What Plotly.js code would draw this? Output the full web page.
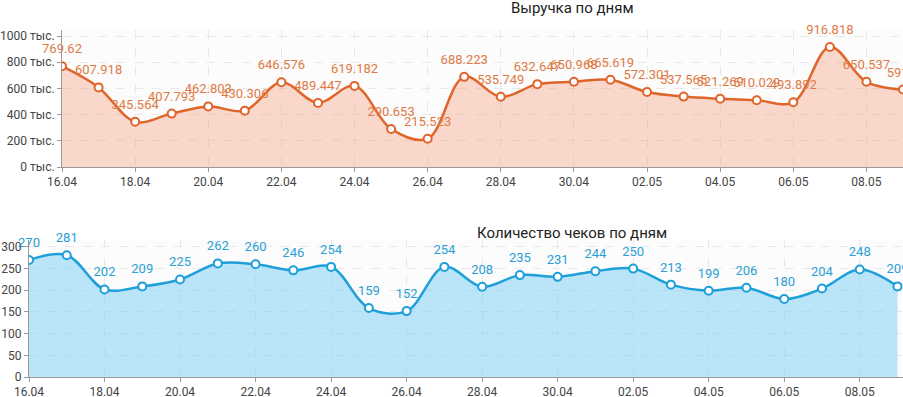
<!DOCTYPE html>
<html>
<head>
<meta charset="utf-8">
<script src="https://cdn.plot.ly/plotly-3.0.1.min.js"></script>
<style>
html,body{margin:0;padding:0;background:#fff;}
#chart{width:903px;height:397px;}
</style>
</head>
<body>
<div id="chart"></div>
<script>
// Dates (day.month), year assumed
var dates = ['2024-04-16','2024-04-17','2024-04-18','2024-04-19','2024-04-20','2024-04-21','2024-04-22','2024-04-23','2024-04-24','2024-04-25','2024-04-26','2024-04-27','2024-04-28','2024-04-29','2024-04-30','2024-05-01','2024-05-02','2024-05-03','2024-05-04','2024-05-05','2024-05-06','2024-05-07','2024-05-08','2024-05-09'];
// Revenue, thousands
var revenue = [769.62, 607.918, 345.564, 407.793, 462.803, 430.306, 646.576, 489.447, 619.182, 290.653, 215.523, 688.223, 535.749, 632.647, 650.968, 665.619, 572.301, 537.565, 521.269, 510.029, 493.892, 916.818, 650.537, 591.4];
// Number of receipts
var checks = [270, 281, 202, 209, 225, 262, 260, 246, 254, 159, 152, 254, 208, 235, 231, 244, 250, 213, 199, 206, 180, 204, 248, 209];

var titleTop = 'Выручка по дням';
var titleBottom = 'Количество чеков по дням';
var ySuffix = ' тыс.';

var W = 903, H = 397;
var FONT = 'Roboto, "Noto Sans", sans-serif';

var orange = '#e0652a', orangeFill = 'rgba(244,150,115,0.36)', orangeText = '#e07a45';
var blue = '#1e9fd9', blueFill = 'rgba(120,205,245,0.5)', blueText = '#2aa0d6';

function series(y, xa, ya, col, fillc, txtc) {
  return [
    {
      x: dates, y: y, type: 'scatter', mode: 'lines+markers',
      xaxis: xa, yaxis: ya,
      line: {shape: 'spline', smoothing: 1, color: col, width: 2.5},
      marker: {size: 8, color: '#fff', line: {color: col, width: 2}},
      fill: 'tozeroy', fillcolor: fillc, hoverinfo: 'x+y'
    },
    {
      x: dates, y: y, type: 'scatter', mode: 'markers+text',
      xaxis: xa, yaxis: ya,
      marker: {size: 14, color: 'rgba(0,0,0,0)', line: {width: 0}},
      text: y.map(function(v){ return String(v); }),
      textposition: 'top center',
      textfont: {family: FONT, size: 13, color: txtc},
      cliponaxis: false, hoverinfo: 'skip'
    }
  ];
}

var traces = series(revenue, 'x', 'y', orange, orangeFill, orangeText)
  .concat(series(checks, 'x2', 'y2', blue, blueFill, blueText));

function py(px){ return 1 - px / H; }

var xCommon = {
  type: 'date', tickformat: '%d.%m', dtick: 2*86400000, tick0: '2024-04-16',
  showgrid: true, gridcolor: '#e8e8e8', griddash: 'dash', gridwidth: 1,
  showline: true, linecolor: '#999', linewidth: 1,
  ticks: 'outside', ticklen: 4, tickcolor: '#999',
  tickfont: {family: FONT, size: 12, color: '#444'},
  zeroline: false, fixedrange: true
};
var yCommon = {
  showgrid: true, gridcolor: '#e8e8e8', griddash: 'dash', gridwidth: 1,
  showline: true, linecolor: '#999', linewidth: 1,
  ticks: 'outside', ticklen: 4, tickcolor: '#999',
  tickfont: {family: FONT, size: 12, color: '#444'},
  zeroline: false, fixedrange: true
};

var layout = {
  width: W, height: H,
  margin: {l: 0, r: 0, t: 0, b: 0},
  paper_bgcolor: '#fff', plot_bgcolor: '#fcfcfc',
  showlegend: false,
  font: {family: FONT},
  xaxis: Object.assign({}, xCommon, {domain: [62/W, 1], range: ['2024-04-16', '2024-05-09'], anchor: 'y'}),
  yaxis: Object.assign({}, yCommon, {domain: [py(167), py(30)], range: [0, 1046], dtick: 200, ticksuffix: ySuffix, anchor: 'x'}),
  xaxis2: Object.assign({}, xCommon, {domain: [29/W, 1], range: ['2024-04-16', '2024-05-09 03:30'], anchor: 'y2'}),
  yaxis2: Object.assign({}, yCommon, {domain: [py(377), py(240)], range: [0, 316], dtick: 50, anchor: 'x2'}),
  annotations: [
    {text: titleTop, xref: 'paper', yref: 'paper', x: 572/W, y: py(8), xanchor: 'center', yanchor: 'middle',
     showarrow: false, font: {family: FONT, size: 15, color: '#222'}},
    {text: titleBottom, xref: 'paper', yref: 'paper', x: 572/W, y: py(233), xanchor: 'center', yanchor: 'middle',
     showarrow: false, font: {family: FONT, size: 15, color: '#222'}}
  ]
};

Plotly.newPlot('chart', traces, layout, {displayModeBar: false, staticPlot: true});
</script>
</body>
</html>
